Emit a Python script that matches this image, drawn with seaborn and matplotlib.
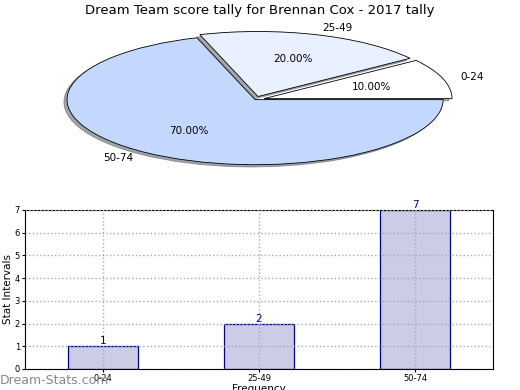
import matplotlib
matplotlib.use("Agg")
import matplotlib.pyplot as plt
import seaborn as sns
import pandas as pd

categories = ["0-24", "25-49", "50-74"]
counts = [1, 2, 7]
pie_colors = ["#ffffff", "#e9f0ff", "#c3d7ff"]
explode = [0.05, 0.05, 0.0]

sns.set_style("white")
plt.rcParams['font.family'] = ['DejaVu Sans']
plt.rcParams['text.color'] = 'black'
plt.rcParams['axes.labelcolor'] = 'black'
plt.rcParams['xtick.color'] = 'black'
plt.rcParams['ytick.color'] = 'black'

fig = plt.figure(figsize=(5.2, 3.9), dpi=100)

# Pie
axp = fig.add_axes([0.0385, 0.536, 0.904, 0.417])
wedges, texts, autotexts = axp.pie(
    counts, labels=categories, colors=pie_colors, explode=explode,
    autopct="%1.2f%%", shadow={"ox": -0.012, "oy": -0.025, "shade": 0.65},
    startangle=0,
    wedgeprops=dict(edgecolor="black", linewidth=0.6),
    textprops=dict(fontsize=7.5, color="black"))
axp.set_aspect("auto")
axp.set_xlim(-1.25, 1.25)
axp.set_ylim(-1.25, 1.25)
fig.text(0.5, 0.972, "Dream Team score tally for Brennan Cox - 2017 tally",
         ha="center", va="center", fontsize=9.5)

# Bars
axb = fig.add_axes([0.048, 0.054, 0.9, 0.4077])
df = pd.DataFrame({"cat": categories, "n": counts})
sns.barplot(data=df, x="cat", y="n", ax=axb, color="#ccccE6", saturation=1,
            edgecolor="#000080", linewidth=0.9, width=0.45)
axb.set_xlim(-0.5, 2.5)
axb.set_ylim(0, 7)
axb.set_yticks(range(0, 8))
axb.grid(True, linestyle=":", color="#aaaaaa", linewidth=1.0)
axb.set_axisbelow(False)
for s in axb.spines.values():
    s.set_visible(True)
    s.set_color("black")
    s.set_linewidth(0.8)
axb.tick_params(axis="both", labelsize=6, length=2, direction="out", left=True, bottom=True, pad=1.5)
axb.set_ylabel("Stat Intervals", fontsize=7.5, labelpad=1)
axb.set_xlabel("Frequency", fontsize=7.5, labelpad=1)
for i, v in enumerate(counts):
    axb.text(i, v, str(v), ha="center", va="bottom", color="#000080", fontsize=7.5)

fig.text(0.0, 0.025, "Dream-Stats.com", color="#888888", fontsize=9,
         ha="left", va="center")

fig.savefig("out.png", dpi=100)
